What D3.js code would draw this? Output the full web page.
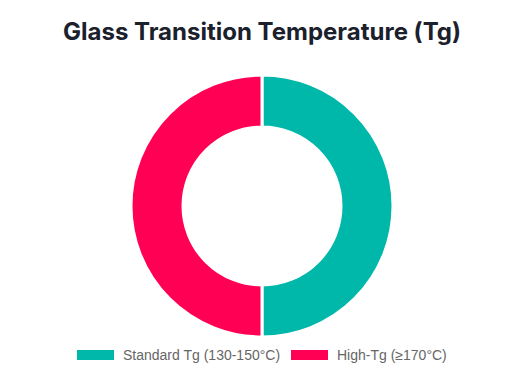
<!DOCTYPE html>
<html>
<head>
<meta charset="utf-8">
<script src="https://cdn.jsdelivr.net/npm/d3@7"></script>
<style>
  body { margin: 0; background: #fff; }
</style>
</head>
<body>
<svg width="524" height="387"></svg>
<script>
const categories = ['Standard Tg (130-150°C)', 'High-Tg (≥170°C)'];
const values = [50, 50];
const colors = ['#00B8A9', '#FF0054'];

const svg = d3.select('svg');
const width = +svg.attr('width');

svg.append('text')
    .attr('x', width / 2)
    .attr('y', 40)
    .attr('text-anchor', 'middle')
    .attr('font-family', 'Inter, "Liberation Sans", sans-serif')
    .attr('font-weight', 700)
    .attr('font-size', 24)
    .attr('fill', '#1a202c')
    .text('Glass Transition Temperature (Tg)');

const color = d3.scaleOrdinal().domain(categories).range(colors);

const pie = d3.pie().sort(null).value((d, i) => values[i]);
const arc = d3.arc().innerRadius(79).outerRadius(131);

const g = svg.append('g')
    .attr('transform', 'translate(262,206)');

g.selectAll('path')
    .data(pie(categories))
    .enter().append('path')
    .attr('d', arc)
    .attr('fill', (d) => color(d.data))
    .attr('stroke', '#fff')
    .attr('stroke-width', 3);

// legend
const legend = svg.append('g')
    .attr('font-family', '"Liberation Sans", Arial, sans-serif')
    .attr('font-size', 14)
    .attr('fill', '#666');

const items = [{x: 77, label: categories[0]}, {x: 291, label: categories[1]}];
items.forEach((it, i) => {
    legend.append('rect')
        .attr('x', it.x)
        .attr('y', 350)
        .attr('width', 37)
        .attr('height', 10)
        .attr('fill', colors[i]);
    legend.append('text')
        .attr('x', it.x + 46)
        .attr('y', 360)
        .text(it.label);
});
</script>
</body>
</html>
